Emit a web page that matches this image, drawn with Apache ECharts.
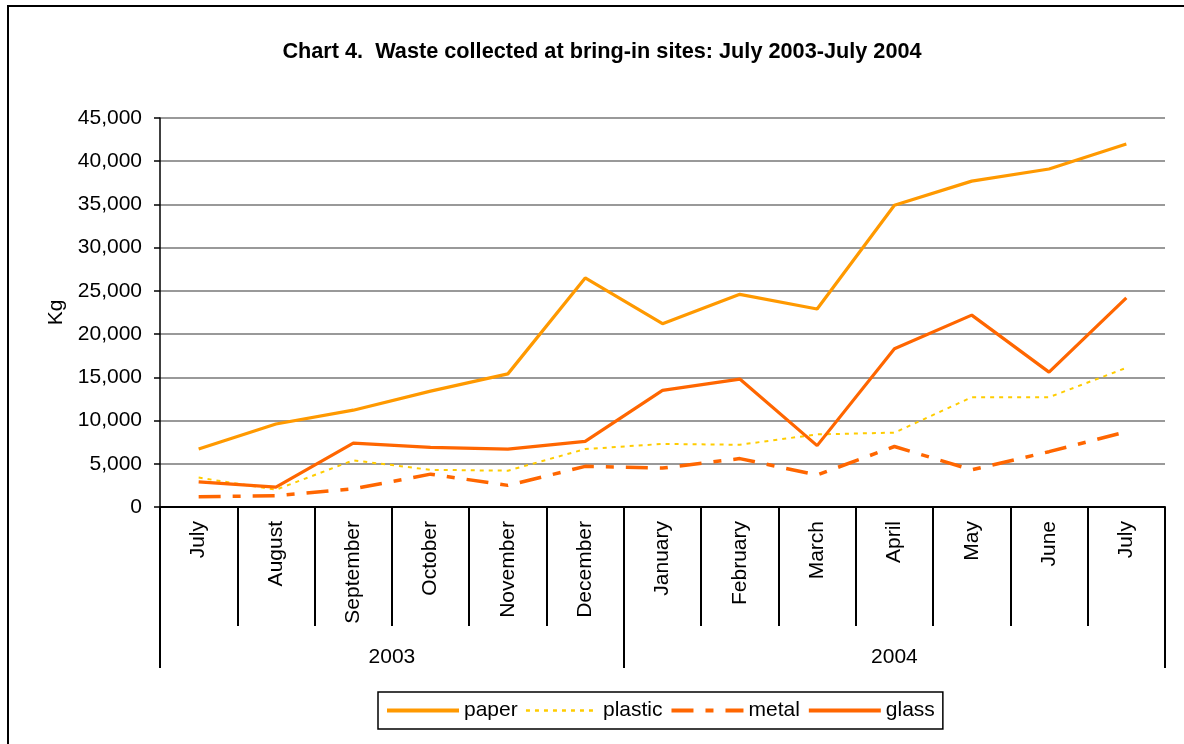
<!DOCTYPE html>
<html>
<head>
<meta charset="utf-8">
<script src="https://cdn.jsdelivr.net/npm/echarts@6/dist/echarts.min.js"></script>
<style>
  html, body { margin: 0; padding: 0; background: #fff; }
  #chart { position: absolute; left: 0; top: 0; width: 1184px; height: 744px; }
  #frame { position: absolute; left: 7px; top: 5px; width: 1200px; height: 800px; border: 2px solid #000; pointer-events: none; }
</style>
</head>
<body>
<div id="chart"></div>
<div id="frame"></div>
<script>
const months = ['July','August','September','October','November','December','January','February','March','April','May','June','July'];
const years = ['2003', '2004'];
const yearMonthCounts = [6, 7];
const yTicks = [0, 5000, 10000, 15000, 20000, 25000, 30000, 35000, 40000, 45000];

const paper   = [6700, 9600, 11200, 13400, 15400, 26500, 21200, 24600, 22900, 34900, 37700, 39100, 42000];
const plastic = [3400, 2000, 5400, 4300, 4200, 6700, 7300, 7200, 8400, 8600, 12700, 12700, 16100];
const metal   = [1200, 1300, 2100, 3800, 2500, 4700, 4500, 5600, 3700, 7000, 4300, 6400, 8700];
const glass   = [2900, 2300, 7400, 6900, 6700, 7600, 13500, 14800, 7100, 18300, 22200, 15600, 24200];

// year group boundaries and centres (in category units)
const yearBounds = [0];
yearMonthCounts.forEach(c => yearBounds.push(yearBounds[yearBounds.length - 1] + c));
const yearCentres = years.map((y, i) => (yearBounds[i] + yearBounds[i + 1]) / 2);

const FONT = "'Liberation Sans', Arial, sans-serif";
const FS = 21;

const chart = echarts.init(document.getElementById('chart'), null, { renderer: 'canvas' });
chart.setOption({
  backgroundColor: '#fff',
  animation: false,
  title: {
    text: 'Chart 4.  Waste collected at bring-in sites: July 2003-July 2004',
    left: 597, top: 36, textAlign: 'center',
    textStyle: { fontFamily: FONT, fontSize: 21.7, fontWeight: 'bold', color: '#000' }
  },
  legend: {
    left: 378, top: 692,
    padding: [8, 8, 8, 7],
    itemWidth: 72, itemHeight: 10, itemGap: 7,
    borderColor: '#000', borderWidth: 1.5,
    itemStyle: { opacity: 0 },
    textStyle: { fontFamily: FONT, fontSize: FS, color: '#000' },
    data: [
      { name: 'paper', lineStyle: { width: 4 } },
      { name: 'plastic', lineStyle: { width: 2.5 } },
      { name: 'metal', lineStyle: { width: 4 } },
      { name: 'glass', lineStyle: { width: 4 } }
    ]
  },
  grid: { left: 160, right: 19, top: 118, bottom: 237, containLabel: false },
  xAxis: [
    {
      type: 'category', data: months, boundaryGap: true, position: 'bottom',
      axisLine: { show: true, lineStyle: { color: '#000', width: 2 } },
      axisTick: { show: true, interval: 0, length: 119, lineStyle: { color: '#000', width: 2 } },
      axisLabel: { interval: 0, rotate: 90, margin: 14, fontFamily: FONT, fontSize: FS, color: '#000' },
      splitLine: { show: false }
    },
    {
      type: 'value', min: 0, max: months.length, position: 'bottom',
      axisLine: { show: false },
      axisTick: { show: true, customValues: yearBounds, length: 161, lineStyle: { color: '#000', width: 2 } },
      axisLabel: {
        customValues: yearCentres, margin: 140, fontFamily: FONT, fontSize: FS, color: '#000',
        formatter: v => years[yearCentres.indexOf(v)]
      },
      splitLine: { show: false }
    }
  ],
  yAxis: {
    type: 'value', min: 0, max: 45000, interval: 5000,
    name: 'Kg', nameLocation: 'middle', nameGap: 93, nameRotate: 90,
    nameTextStyle: { fontFamily: FONT, fontSize: FS, color: '#000' },
    axisLine: { show: true, lineStyle: { color: '#000', width: 1.5 } },
    axisTick: { show: true, length: 6, lineStyle: { color: '#000', width: 1.5 } },
    axisLabel: { margin: 18, fontFamily: FONT, fontSize: FS, color: '#000', formatter: v => v.toLocaleString('en-US') },
    splitLine: { show: true, lineStyle: { color: '#999', width: 2 } }
  },
  series: [
    { name: 'paper', type: 'line', data: paper, symbol: 'none', xAxisIndex: 0,
      lineStyle: { color: '#FF9900', width: 3.2 }, itemStyle: { color: '#FF9900' } },
    { name: 'plastic', type: 'line', data: plastic, symbol: 'none', xAxisIndex: 0,
      lineStyle: { color: '#FFCC00', width: 2, type: [4, 5] }, itemStyle: { color: '#FFCC00' } },
    { name: 'metal', type: 'line', data: metal, symbol: 'none', xAxisIndex: 0,
      lineStyle: { color: '#FF6600', width: 3.5, type: [22, 12, 8, 12] }, itemStyle: { color: '#FF6600' } },
    { name: 'glass', type: 'line', data: glass, symbol: 'none', xAxisIndex: 0,
      lineStyle: { color: '#FF6600', width: 3.2 }, itemStyle: { color: '#FF6600' } }
  ]
});
</script>
</body>
</html>
